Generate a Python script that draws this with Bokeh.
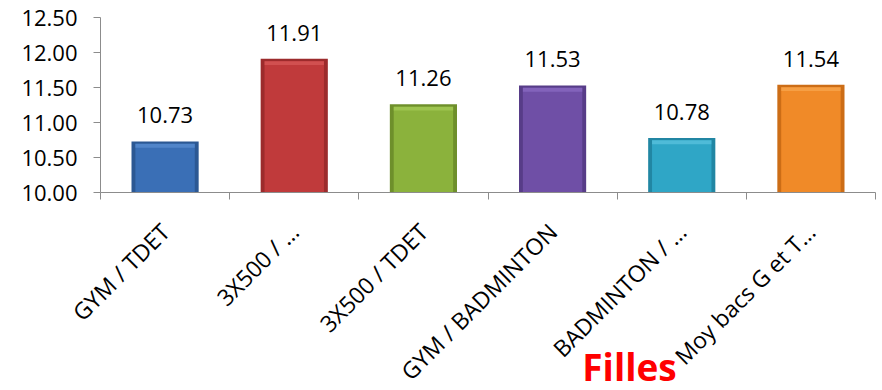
import numpy as np
from bokeh.plotting import figure
from bokeh.models import Range1d, FixedTicker, Label, ColumnDataSource
from bokeh.core.properties import value
from bokeh.embed import file_html
from bokeh.resources import INLINE

categories = ["GYM / TDET", "3X500 / \u2026", "3X500 / TDET", "GYM / BADMINTON",
              "BADMINTON / \u2026", "Moy bacs G et T\u2026"]
notes = [10.73, 11.91, 11.26, 11.53, 10.78, 11.54]
colors = ["#3a6fb6", "#c03a3b", "#8bb23c", "#6f4fa6", "#2fa6c6", "#f08a28"]
dark_colors = ["#2c5893", "#9c2b2c", "#6e8f2b", "#573c88", "#2186a3", "#cc6d16"]
light_colors = ["#5b8fd2", "#d85a5a", "#a6cc58", "#8c6cc4", "#5cc4e0", "#f8a850"]
y_ticks = [10.0, 10.5, 11.0, 11.5, 12.0, 12.5]
title_text = "Filles"

# layout of the plotting area inside the 882x390 canvas (pixels)
W, H = 882, 390
left, right, top, bottom = 100, 875, 17, 192
y_low, y_high = 10.0, 12.5
n = len(categories)
py = (bottom - top) / (y_high - y_low)
px = (right - left) / n
y_range = Range1d(y_low - (H - bottom) / py, y_high + top / py)
x_range = Range1d(-left / px, n + (W - right) / px)

x = np.arange(n) + 0.5
notes_arr = np.array(notes)

p = figure(frame_width=W, frame_height=H, output_backend="svg", toolbar_location=None,
           x_range=x_range, y_range=y_range, min_border=0,
           min_border_left=0, min_border_right=0, min_border_top=0, min_border_bottom=0)
p.outline_line_color = None
p.xgrid.grid_line_color = None
p.ygrid.grid_line_color = None
p.background_fill_color = "white"
p.border_fill_color = "white"

src = ColumnDataSource(dict(x=x, top=notes_arr, c=colors, d=dark_colors, l=light_colors,
                            itop=notes_arr - 0.035, hb=notes_arr - 0.09,
                            lab=["%.2f" % v for v in notes]))
p.vbar(x="x", top="top", bottom=y_low, width=0.52, fill_color="d", line_color=None, source=src)
p.vbar(x="x", top="itop", bottom=y_low, width=0.46, fill_color="c", line_color=None, source=src)
p.vbar(x="x", top="itop", bottom="hb", width=0.46, fill_color="l", line_color=None,
       fill_alpha=0.7, source=src)

p.text(x="x", y="top", text="lab", source=src, text_align="center", text_baseline="middle",
       y_offset=-26, text_font=value("Open Sans"), text_font_size="22px", text_color="black")

ax = p.xaxis[0]
ax.fixed_location = y_low
ax.bounds = (0, n)
ax.ticker = FixedTicker(ticks=list(x), minor_ticks=list(np.arange(n + 1)))
ax.major_label_overrides = {float(xx): c for xx, c in zip(x, categories)}
ax.major_tick_out = 0
ax.major_tick_in = 0
ax.minor_tick_out = 7
ax.minor_tick_in = 0
ax.minor_tick_line_color = "#8c8c8c"
ax.axis_line_color = "#8c8c8c"
ax.major_label_orientation = np.pi / 4
ax.major_label_text_font = "Open Sans"
ax.major_label_text_font_size = "23px"
ax.major_label_text_color = "black"
ax.major_label_standoff = 28

ay = p.yaxis[0]
ay.fixed_location = 0
ay.bounds = (y_low, y_high)
ay.ticker = FixedTicker(ticks=y_ticks)
ay.major_label_overrides = {t: "%.2f" % t for t in y_ticks}
ay.minor_tick_line_color = None
ay.major_tick_out = 7
ay.major_tick_in = 0
ay.major_tick_line_color = "#8c8c8c"
ay.axis_line_color = "#8c8c8c"
ay.major_label_text_font = "Open Sans"
ay.major_label_text_font_size = "22px"
ay.major_label_text_color = "black"
ay.major_label_standoff = 16

lbl = Label(x=3.73, y=7.51, x_units="data", y_units="data", text=title_text,
            text_color="red", text_font="Open Sans", text_font_size="37px",
            text_font_style="bold", text_baseline="middle", text_align="left")
p.add_layout(lbl)

open("out.html", "w").write(file_html(p, INLINE))
